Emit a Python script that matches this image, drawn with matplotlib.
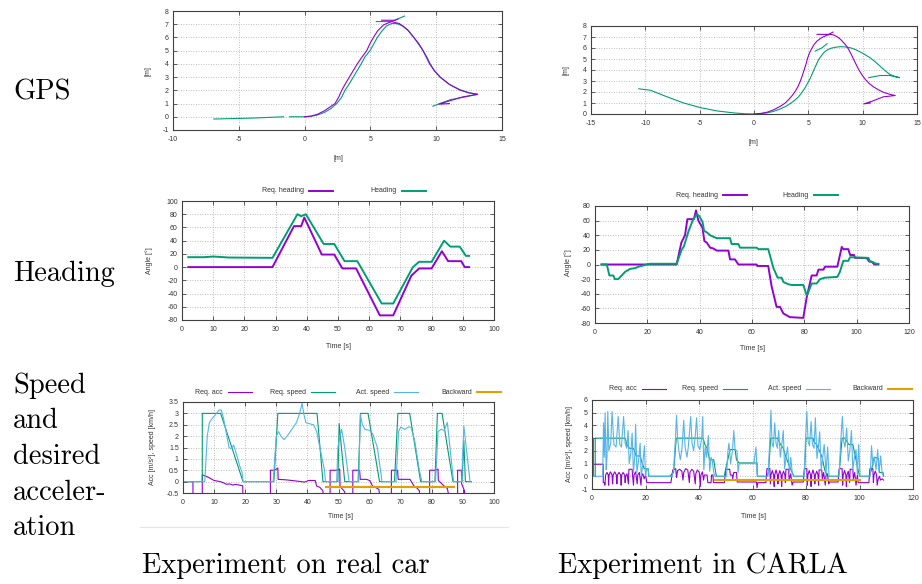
import numpy as np
import matplotlib
matplotlib.use("Agg")
import matplotlib.pyplot as plt
from matplotlib.lines import Line2D
from matplotlib.ticker import FuncFormatter

nan = np.nan

# ---------------- GPS, real car ----------------
gps_real_act_x = [-6.9, -4.0, -1.6, nan, -1.15, 0, 0.5, 1.0, 1.55, 2.0, 2.44, 2.8, 3.07, 3.4, 3.7,
                  4.0, 4.3, 4.6, 4.97, 5.25, 5.53, 5.85, 6.2, 6.6, 7.0, 7.5, 7.9, 8.3, 8.65, 9.0,
                  9.3, 9.55, 9.85, 10.3, 11.0, 11.8, 12.5, 13.15, 12.2, 11.1, 10.4, 9.75,
                  nan, 5.45, 6.6, 7.6]
gps_real_act_y = [-0.17, -0.1, 0.0, nan, 0.0, 0, 0.04, 0.14, 0.35, 0.62, 1.0, 1.45, 2.0, 2.5, 3.0,
                  3.5, 4.0, 4.55, 5.0, 5.5, 6.0, 6.45, 6.85, 7.05, 7.05, 6.85, 6.5, 6.0, 5.5, 5.0,
                  4.5, 4.0, 3.5, 3.0, 2.45, 2.05, 1.82, 1.7, 1.5, 1.3, 1.05, 0.8,
                  nan, 7.2, 7.2, 7.62]
gps_real_req_x = [0, 0.5, 1.0, 1.5, 1.9, 2.31, 2.6, 2.82, 3.1, 3.4, 3.7, 4.0, 4.35, 4.72, 4.95,
                  5.23, 5.55, 6.0, 6.6, 7.2, 7.8, 8.3, 8.7, 9.0, 9.25, 9.5, 9.85, 10.3, 11.0,
                  11.8, 12.5, 13.15, 12.0, 11.0, 10.2, 11.0,
                  nan, 5.85, 6.9, 7.1]
gps_real_req_y = [0, 0.05, 0.2, 0.45, 0.72, 1.0, 1.5, 2.0, 2.5, 3.0, 3.5, 4.0, 4.5, 5.0, 5.5,
                  6.0, 6.5, 6.95, 7.2, 7.05, 6.6, 6.0, 5.5, 5.0, 4.5, 4.0, 3.5, 3.0, 2.45,
                  2.02, 1.8, 1.7, 1.5, 1.2, 0.95, 1.0,
                  nan, 7.3, 7.3, 7.4]

# ---------------- GPS, CARLA ----------------
gps_carla_act_x = [-10.6, -9.54, -8.0, -6.47, -4.94, -3.4, -1.87, -0.8, 0, 0.6, 1.2, 1.8, 2.42,
                   2.9, 3.34, 3.75, 4.1, 4.4, 4.7, 4.95, 5.2, 5.4, 5.6, 5.95, 6.41, 6.7, 7.02,
                   7.5, 7.94, 8.4, 8.87, 9.35, 9.8, 10.25, 10.7, 11.15, 11.6, 12.05, 12.5, 13.0,
                   13.4, 12.5, 11.6, 10.55,
                   nan, 5.64, 6.26, 6.72]
gps_carla_act_y = [2.29, 2.16, 1.56, 1.0, 0.58, 0.28, 0.1, 0.02, 0, 0.03, 0.1, 0.24, 0.46,
                   0.68, 0.95, 1.25, 1.56, 1.95, 2.38, 2.83, 3.3, 3.75, 4.2, 4.96, 5.57, 5.8, 5.96,
                   6.07, 6.12, 6.1, 6.02, 5.85, 5.63, 5.38, 5.1, 4.75, 4.35, 3.95, 3.6, 3.4,
                   3.3, 3.5, 3.5, 3.3,
                   nan, 5.72, 6.02, 6.39]
gps_carla_req_x = [0, 0.6, 1.2, 1.8, 2.42, 2.85, 3.19, 3.5, 3.8, 4.05, 4.26, 4.45, 4.63, 4.8,
                   4.94, 5.12, 5.34, 5.55, 5.8, 6.1, 6.41, 6.7, 7.02, 7.35, 7.64, 7.95, 8.25, 8.5,
                   8.71, 8.95, 9.17, 9.4, 9.63, 9.92, 10.25, 10.6, 11.0, 11.45, 11.9, 12.45, 13.0,
                   11.9, 10.86, 10.1, 10.7,
                   nan, 5.8, 6.87, 7.27]
gps_carla_req_y = [0, 0.05, 0.16, 0.38, 0.7, 0.98, 1.31, 1.66, 2.07, 2.5, 2.98, 3.5, 4.05, 4.58,
                   5.1, 5.58, 6.0, 6.35, 6.63, 6.86, 7.03, 7.16, 7.24, 7.18, 7.03, 6.8, 6.48, 6.2,
                   5.87, 5.42, 4.96, 4.5, 4.05, 3.58, 3.14, 2.77, 2.47, 2.2, 1.98, 1.8, 1.68,
                   1.56, 1.16, 0.92, 1.0,
                   nan, 7.24, 7.24, 7.45]

# ---------------- Heading, real car ----------------
hl_t_req = [2, 29, 35.9, 38.2, 39.2, 44.8, 48.8, 51.4, 55.8, 63.4, 67.7, 73.5, 76, 80, 83.3, 85.3,
            89.5, 90.6, 92]
hl_req = [0, 0, 62, 62, 75, 19, 19, -2, -2, -73, -73, -13, -2, -2, 24, 9, 9, 0, 0]
hl_t_act = [2, 7, 10, 15, 29, 37, 38.2, 39.7, 45.4, 48.8, 52.1, 56.2, 64, 67.7, 74, 76, 80, 84, 86,
            89, 91, 92]
hl_act = [15, 15, 16, 14.5, 14, 80, 77, 80, 35, 35, 9, 9, -55, -55, 0, 8, 8, 40, 31, 31, 17, 17]

# ---------------- Heading, CARLA ----------------
hr_t_req = [2.5, 31.2, 33, 34.4, 35.3, 37.8, 38.6, 39.5, 41.1, 41.8, 42.7, 44, 45.2, 46.5, 51, 51.6,
            53.5, 54.8, 61.8, 62, 66.2, 67.5, 69.4, 70.7, 72, 74.5, 79.6, 80.9, 82.8, 84.7, 85.4,
            87.3, 87.9, 92.6, 94.3, 94.9, 96.8, 97.5, 99, 99.4, 103.8, 104.8, 105.7, 106.8, 108.3]
hr_req = [0, 0, 30, 40, 62, 62, 74, 60, 50, 32, 30, 23, 22, 19, 19, 7, 7, 0, 0, -2, -2, -30, -58,
          -58, -67, -72, -73, -45, -15, -15, -7, -7, -3, -3, 24, 21, 21, 13, 13, 9, 9, 4, 4, 0, 0]
hr_t_act = [2.5, 4.5, 5.5, 7, 7.6, 8.9, 10.2, 11.5, 13.4, 15.3, 16.6, 17.8, 19.7, 21, 31.2, 33.1,
            34, 35.7, 37.3, 38.9, 39.9, 41.1, 41.7, 42.7, 44, 45.2, 46.5, 51.6, 52.2, 54.8, 55.4,
            61.8, 62.4, 66.2, 68.2, 69.8, 71.3, 72, 73.9, 75.2, 79.6, 80.9, 81.5, 82.8, 84.7, 86,
            87.9, 92.6, 93.6, 94.9, 96.8, 97.5, 104.5, 105.1, 106.4, 107.4, 108.3]
hr_act = [0, 0, -15, -15, -20, -20, -15, -10, -6, -5, -3, -2, 0, 1, 1, 20, 25, 45, 60, 69, 66, 58,
          46, 44, 40, 38, 36, 36, 28, 28, 23, 23, 21, 21, -5, -18, -18, -24, -27, -28, -28, -42,
          -38, -26, -26, -20, -18, -17, -10, 5, 5, 10, 9, 4, 3, 1, 1]

# ---------------- Speed, real car ----------------
sl_t_reqspd = [0, 6.2, 6.2, 12.1, 19.3, 29.2, 30.5, 43.1, 45, 49.8, 50.2, 52.0, 56.3, 57.1, 59.5,
               63.2, 68, 69.1, 72.9, 76.4, 81, 81.8, 83.3, 86.8, 89.7, 90.3, 90.8, 92.7]
sl_reqspd = [0, 0, 3, 3, 0, 0, 3, 3, 0, 0, 2.55, 0, 0, 3, 3, 0, 0, 3, 3, 0, 0, 3, 3, 0, 0, 1.8, 0, 0]
sl_t_act = [0, 7, 7.8, 8.5, 9.5, 10.5, 11.6, 12.3, 13, 13.7, 14.8, 15.5, 16.3, 17.2, 18.2, 19, 19.3,
            29, 30, 30.7, 31.5, 32.5, 33.5, 35, 36.5, 37.5, 38.3, 38.8, 39.5, 40.5, 42, 43, 44,
            45.5, 45.8, 49.4, 49.8, 50.5, 51, 52, 53.4, 56.5, 57, 57.7, 58.5, 60, 61, 62.5, 64,
            68.5, 69.3, 70, 71.3, 72.5, 73.3, 74.5, 76, 76.8, 81.2, 82, 83, 84, 85, 87, 89.6,
            90.3, 92.3]
sl_act = [0, 0, 2.0, 2.6, 2.8, 2.95, 3.15, 3.15, 2.8, 2.3, 1.5, 1.45, 1.6, 1.2, 0.7, 0.4, 0,
          0, 2.0, 2.2, 2.0, 1.85, 2.0, 2.3, 2.6, 3.0, 3.45, 3.0, 2.6, 2.55, 2.5, 2.2, 1.5,
          0.5, 0, 0, 1.5, 2.0, 2.3, 1.5, 0, 0, 2.95, 2.5, 2.3, 2.25, 2.1, 1.5, 0,
          0, 2.2, 2.4, 2.3, 2.4, 2.4, 1.8, 0.5, 0, 0, 2.2, 2.3, 2.25, 2.6, 0, 0,
          2.45, 0]
sl_t_acc = [0, 3.2, 3.2, 6.2, 6.2, 8, 10, 12, 13, 14, 15, 16, 17, 18, 19.2, 19.3, 28.1, 28.1, 29.5,
            30.5, 30.6, 33, 35, 38, 39, 40.5, 42.5, 43, 44, 45, 45.2, 47.3, 47.3, 49.3, 50.4, 50.5,
            52, 52.2, 54.6, 54.6, 56.8, 57, 59, 60, 61, 62.5, 63, 63.5, 67, 67, 69, 69.2, 73,
            74.3, 75, 76, 76.3, 79.3, 79.3, 81, 82, 82.1, 84, 85, 86, 88.3, 88.3, 89.5, 89.6,
            90.5, 90.7]
sl_acc = [0, 0, -1, -1, 0.3, 0.2, 0.05, 0.0, -0.05, -0.12, -0.1, -0.15, -0.12, -0.15, -0.18, -1,
          -1, 0.5, 0.5, 0.6, 0.1, 0.08, 0.05, 0.0, -0.02, 0.05, 0.05, -0.2, -0.25, -0.4, -1, -1,
          0.5, 0.5, 0.55, -0.2, -0.45, -1, -1, 0.5, 0.5, 0.1, 0.1, 0.05, -0.2, -0.3, -0.35, -1,
          -1, 0.5, 0.5, 0.1, 0.1, -0.2, -0.25, -0.4, -1, -1, 0.5, 0.5, 0.55, 0.05, -0.2, -0.3,
          -1, -1, 0.5, 0.5, -0.1, -0.4, -1]
sl_t_back = [46, 87]
sl_back = [-0.25, -0.25]

# ---------------- Speed, CARLA ----------------
sr_t_reqspd = [0, 0.2, 0.2, 0.5, 0.5, 1.2, 1.2, 1.8, 1.8, 12.4, 13, 14, 15.5, 16.5, 18, 18.5, 19.5,
               21, 21.2, 29, 30.5, 31.5, 41.5, 42.2, 43, 44, 45.5, 46, 46.5, 49.5, 50, 51.6, 53.5,
               54, 55, 61.7, 61.8, 65.5, 66, 66.8, 69.3, 70.5, 71.5, 72.5, 74, 75, 75.5, 79, 79.5,
               80, 82.6, 83, 84, 86, 87, 88, 92, 92.5, 93.5, 94.5, 96, 97.5, 98.5, 99.5, 100,
               103.5, 104.5, 105.5, 107, 107.5, 108.8, 109]
sr_reqspd = [0, 0, 3, 3, 0, 0, 3, 3, 3, 3, 2.5, 2.2, 2.2, 1.6, 1.6, 1.2, 0.6, 0.6, 0, 0, 0.3, 3, 3,
             2.5, 2.2, 1.3, 1.3, 0.6, 0, 0, 0.6, 2.1, 2.1, 1.3, 1.05, 1.05, 0, 0, 0.4, 3, 3, 2.5,
             2.2, 1.5, 0.7, 0.2, 0, 0, 0.5, 3, 3, 2.7, 2.5, 1.5, 0.5, 0, 0, 0.5, 3, 3, 2.5, 2.5,
             1.5, 0.5, 0, 0, 0.5, 1.5, 1.4, 0.3, 0.3, 0]
sr_t_act = [0, 4.0, 4.3, 4.6, 4.9, 5.3, 5.6, 5.9, 6.3, 7.0, 7.5, 8.2, 9.0, 9.8, 10.4, 11.0, 11.8,
            12.4, 13.0, 13.5, 13.9, 14.5, 15.0, 15.5, 16.0, 16.3, 16.8, 17.5, 18.0, 18.4, 19.0,
            19.6, 20.0, 20.5, 21.0, 21.3,
            30.0, 30.5, 31.2, 31.6, 32.0, 32.5, 33.0, 33.6, 34.3, 34.8, 35.5, 36.0, 36.9, 37.4,
            38.0, 38.6, 39.1, 39.6, 40.3, 41.0, 41.4, 41.8, 42.3, 42.8, 43.5, 44.0, 44.5, 45.0,
            45.5, 46.0,
            50.3, 50.8, 51.2, 51.8, 52.5, 53.0, 53.5, 54.2, 54.6, 55.0, 56, 60.5, 61.3, 61.7, 62.0,
            65.8, 66.4, 66.9, 67.3, 67.8, 68.3, 68.8, 69.3, 69.8, 70.4, 70.9, 71.5, 72.0, 72.6,
            73.1, 73.8, 74.3, 74.8, 75.3,
            79.3, 79.8, 80.3, 80.8, 81.3, 81.9, 82.4, 83.0, 83.5, 84.1, 84.6, 85.1, 85.7, 86.3,
            86.8, 87.5, 88.1, 88.6,
            92.4, 92.9, 93.6, 94.1, 94.6, 95.2, 95.8, 96.4, 97.0, 97.5, 98.1, 98.7, 99.2, 99.7,
            100.2,
            104.0, 104.5, 105.0, 105.6, 106.2, 106.8, 107.3, 107.9, 108.5, 109.0]
sr_act = [0, 0, 4.2, 1.5, 5.0, 0.5, 1.5, 5.1, 2.0, 2.6, 5.1, 2.5, 2.3, 4.7, 2.5, 2.3, 4.7, 2.6, 2.2,
          3.6, 1.0, 1.8, 3.4, 0.3, 1.6, 4.1, 0.3, 1.4, 2.6, 0.0, 1.0, 2.4, 0.0, 0.6, 0.6, 0,
          0, 0.5, 3.0, 4.8, 3.0, 2.0, 1.3, 2.1, 4.4, 2.3, 1.5, 2.3, 4.7, 2.6, 2.0, 3.2, 4.6, 2.4,
          2.1, 3.0, 4.7, 0.5, 2.3, 1.5, 3.2, 0.4, 1.5, 1.2, 0.3, 0,
          0, 2.0, 2.6, 1.0, 2.0, 3.6, 2.1, 2.0, 0.3, 1.0, 1.0, 1.0, 2.3, 0.2, 0,
          0, 2.5, 5.2, 2.6, 2.3, 4.2, 2.6, 2.2, 3.6, 1.5, 2.4, 3.6, 0.6, 1.6, 2.3, 0.3, 1.5, 0.4, 0,
          0, 2.8, 5.1, 2.7, 2.4, 4.3, 2.5, 2.2, 4.6, 1.4, 2.2, 3.5, 0.5, 1.6, 2.5, 0.3, 2.3, 0,
          0, 2.5, 4.7, 2.7, 2.3, 3.8, 1.2, 2.1, 3.6, 0.5, 1.5, 2.1, 0.2, 2.5, 0,
          0, 2.4, 0.8, 1.5, 0.5, 2.1, 0.3, 1.6, 0.2, 0]
sr_t_acc = [0, 4.2, 4.2, 4.7, 4.8, 5.1, 5.6, 6.1, 6.2, 6.4, 6.9, 7.5, 7.7, 7.9, 8.5, 9.1, 9.3, 9.5,
            10.1, 10.7, 10.9, 11.1, 11.6, 12.2, 12.4, 12.6, 13.1, 13.6, 13.8, 15.0, 15.2, 15.5,
            15.7, 16.3, 16.9, 17.1, 17.7, 18.3, 18.5, 19.0, 19.5, 20.0, 20.5,
            29.5, 30.2, 31.3, 31.6, 32.0, 32.8, 33.6, 34.0, 34.3, 35.0, 35.8, 36.4, 36.6, 37.3,
            38.0, 38.6, 38.8, 39.4, 40.1, 40.5, 40.7, 41.3, 41.7, 42.0, 43.0, 43.3, 44.5, 44.7,
            45.2, 45.4,
            49.5, 50.0, 51.5, 51.7, 52.4, 52.6, 53.0, 54.0, 54.3, 61.5, 61.7, 62.0, 65.0,
            65.4, 66.5, 66.7, 66.9, 67.4, 67.9, 68.1, 68.3, 68.8, 69.3, 69.5, 69.7, 70.2, 70.7,
            70.9, 71.1, 71.6, 72.1, 72.3, 72.5, 73.5, 73.7, 74.3, 74.8, 75.2,
            79.0, 79.4, 80.3, 80.5, 80.7, 81.2, 81.7, 81.9, 82.1, 82.6, 83.1, 83.3, 83.5, 84.0,
            84.5, 84.7, 84.9, 85.9, 86.1, 86.6, 87.2, 87.5, 88.0, 88.5, 88.7,
            92.0, 92.4, 93.5, 93.7, 93.9, 94.4, 94.9, 95.1, 95.3, 95.8, 96.3, 96.5, 97.5, 97.7,
            98.2, 98.7, 99.2, 99.5, 103.5,
            103.9, 105.0, 105.2, 105.4, 105.9, 106.4, 106.6, 107.0, 107.5, 107.8, 108.5, 109.0]
sr_acc = [0.95, 0.95, -0.5, -0.5, -0.7, 0.1, 0.3, 0.1, -0.7, 0.1, 0.35, 0.1, -0.6, 0.1, 0.35, 0.1,
          -0.6, 0.1, 0.3, 0.1, -0.7, 0.1, 0.3, 0.1, -0.5, 0.0, 0.2, -0.6, 0.55, 0.55, 0.0, -0.7,
          0.1, 0.35, -0.6, 0.1, 0.3, -0.7, 0.0, 0.2, -0.2, 0.1, -0.5,
          -0.5, 0.5, 0.6, -0.1, 0.45, 0.55, 0.4, -0.3, 0.3, 0.6, 0.5, -0.5, 0.3, 0.55, 0.4, -0.6,
          0.2, 0.5, 0.3, -0.8, 0.1, 0.35, -0.3, 0.1, 0.1, -0.5, -0.5, 0.1, 0.1, -0.5,
          -0.5, 0.55, 0.55, 0.1, 0.1, -0.2, 0.3, 0.3, -0.45, -0.45, -0.9, -0.5, -0.5,
          0.6, 0.6, -0.6, 0.1, 0.45, 0.1, -0.8, 0.1, 0.5, 0.1, -0.6, 0.1, 0.45, 0.1, -0.8, 0.1,
          0.4, 0.1, -0.5, 0.55, 0.55, -0.3, 0.2, -0.7, -0.45,
          -0.45, 0.6, 0.6, -0.7, 0.1, 0.45, 0.1, -0.8, 0.1, 0.5, 0.1, -0.6, 0.1, 0.4, 0.1, -0.7,
          0.5, 0.5, -0.2, 0.3, -0.7, 0.1, 0.2, -0.6, -0.45,
          -0.45, 0.6, 0.6, -0.7, 0.1, 0.45, 0.1, -0.8, 0.1, 0.4, -0.5, 0.55, 0.55, -0.2, 0.3,
          -0.7, 0.1, -0.5, -0.5,
          0.6, 0.6, -0.5, 0.1, 0.4, 0.1, -0.7, -0.2, 0.0, -0.3, -0.2, -0.3]
sr_t_back = [46, 100]
sr_back = [-0.27, -0.27]

PURPLE = '#9400d3'
GREEN = '#009e73'
BLUE = '#56b4e9'
ORANGE = '#e69f00'
TXT = '#333333'

plt.rcParams['axes.unicode_minus'] = False
plt.rcParams['font.family'] = ['Liberation Sans', 'DejaVu Sans']

W, H = 922, 584
fig = plt.figure(figsize=(W / 100, H / 100), dpi=100)


def add_ax(l, t, r, b):
    return fig.add_axes([l / W, 1 - b / H, (r - l) / W, (b - t) / H])


def style(ax, xlim, xticks, ylim, yticks):
    ax.set_xlim(*xlim)
    ax.set_ylim(*ylim)
    ax.set_xticks(xticks)
    ax.set_yticks(yticks)
    fmt = FuncFormatter(lambda v, p: '%g' % v)
    ax.xaxis.set_major_formatter(fmt)
    ax.yaxis.set_major_formatter(fmt)
    ax.tick_params(direction='in', length=3, width=0.6, color='#404040',
                   labelsize=5, labelcolor=TXT, top=True, right=True, pad=3)
    ax.tick_params(axis='x', pad=4)
    for s in ax.spines.values():
        s.set_color('#404040')
        s.set_linewidth(0.8)
    ax.grid(True, color='#a8a8a8', linestyle=(0, (1, 2)), linewidth=0.6)
    ax.set_axisbelow(True)


def ftext(x, y, s, **kw):
    kw.setdefault('fontsize', 5)
    kw.setdefault('color', TXT)
    fig.text(x / W, 1 - y / H, s, **kw)


def legend_item(x_end, y, label, color, lw):
    ftext(x_end, y, label, ha='right', va='center')
    fig.add_artist(Line2D([(x_end + 5) / W, (x_end + 29) / W], [1 - y / H, 1 - y / H],
                          color=color, lw=lw))


# GPS real
ax = add_ax(173, 11, 502, 130)
ax.plot(gps_real_act_x, gps_real_act_y, color=GREEN, lw=0.8)
ax.plot(gps_real_req_x, gps_real_req_y, color=PURPLE, lw=0.8)
style(ax, (-10, 15), range(-10, 16, 5), (-1, 8), range(-1, 9))
ftext(148, 71, '[m]', rotation=90, ha='center', va='center')
ftext(338, 159, '[m]', ha='center', va='center')

# GPS CARLA
ax = add_ax(591, 26, 917, 114)
ax.plot(gps_carla_act_x, gps_carla_act_y, color=GREEN, lw=0.8)
ax.plot(gps_carla_req_x, gps_carla_req_y, color=PURPLE, lw=0.8)
style(ax, (-15, 15), range(-15, 16, 5), (0, 8), range(0, 9))
ftext(566, 70, '[m]', rotation=90, ha='center', va='center')
ftext(753, 143, '[m]', ha='center', va='center')

# Heading real
ax = add_ax(182, 201, 494, 320)
ax.plot(hl_t_req, hl_req, color=PURPLE, lw=1.4)
ax.plot(hl_t_act, hl_act, color=GREEN, lw=1.4)
style(ax, (0, 100), range(0, 101, 10), (-80, 100), range(-80, 101, 20))
ftext(149, 261, 'Angle [°]', rotation=90, ha='center', va='center')
ftext(338, 347, 'Time [s]', ha='center', va='center')
legend_item(304, 191, 'Req. heading', PURPLE, 1.4)
legend_item(397, 191, 'Heading', GREEN, 1.4)

# Heading CARLA
ax = add_ax(595, 206, 909, 323)
ax.plot(hr_t_req, hr_req, color=PURPLE, lw=1.4)
ax.plot(hr_t_act, hr_act, color=GREEN, lw=1.4)
style(ax, (0, 120), range(0, 121, 20), (-80, 80), range(-80, 81, 20))
ftext(568, 263, 'Angle [°]', rotation=90, ha='center', va='center')
ftext(752, 349, 'Time [s]', ha='center', va='center')
legend_item(718, 195, 'Req. heading', PURPLE, 1.4)
legend_item(809, 195, 'Heading', GREEN, 1.4)

# Speed real
ax = add_ax(183, 402, 494, 493)
ax.plot(sl_t_acc, sl_acc, color=PURPLE, lw=0.8)
ax.plot(sl_t_reqspd, sl_reqspd, color=GREEN, lw=0.8)
ax.plot(sl_t_act, sl_act, color=BLUE, lw=0.8)
ax.plot(sl_t_back, sl_back, color=ORANGE, lw=1.5)
style(ax, (0, 100), range(0, 101, 10), (-0.5, 3.5), np.arange(-0.5, 3.51, 0.5))
ftext(152, 447, 'Acc [m/s²], speed [km/h]', rotation=90, ha='center', va='center')
ftext(341, 517, 'Time [s]', ha='center', va='center')
legend_item(223, 392, 'Req. acc', PURPLE, 0.8)
legend_item(306, 392, 'Req. speed', GREEN, 0.8)
legend_item(389, 392, 'Act. speed', BLUE, 0.8)
legend_item(472, 392, 'Backward', ORANGE, 1.5)

# Speed CARLA
ax = add_ax(592, 400, 913, 489)
ax.plot(sr_t_acc, sr_acc, color=PURPLE, lw=0.8)
ax.plot(sr_t_reqspd, sr_reqspd, color=GREEN, lw=0.8)
ax.plot(sr_t_act, sr_act, color=BLUE, lw=0.8)
ax.plot(sr_t_back, sr_back, color=ORANGE, lw=1.5)
style(ax, (0, 120), range(0, 121, 20), (-1, 6), range(-1, 7))
ftext(569, 444, 'Acc [m/s²], speed [km/h]', rotation=90, ha='center', va='center')
ftext(753, 516, 'Time [s]', ha='center', va='center')
legend_item(637, 389, 'Req. acc', PURPLE, 0.8)
legend_item(718, 389, 'Req. speed', GREEN, 0.8)
legend_item(801, 389, 'Act. speed', BLUE, 0.8)
legend_item(883, 389, 'Backward', ORANGE, 1.5)

# Row labels and captions (Computer Modern)
big = dict(fontsize=20.5, color='black', family='cmr10', ha='left', va='baseline')
ftext(13, 99, 'GPS', **big)
ftext(13, 281, 'Heading', **big)
for i, line in enumerate(['Speed', 'and', 'desired', 'acceler-', 'ation']):
    ftext(13, 393 + 35.5 * i, line, **big)
ftext(142, 573, 'Experiment on real car', **big)
ftext(558, 573, 'Experiment in CARLA', **big)

fig.add_artist(Line2D([140 / W, 508 / W], [1 - 527 / H, 1 - 527 / H], color='#e6e6e6', lw=0.8))

fig.savefig('out.png', dpi=100)
